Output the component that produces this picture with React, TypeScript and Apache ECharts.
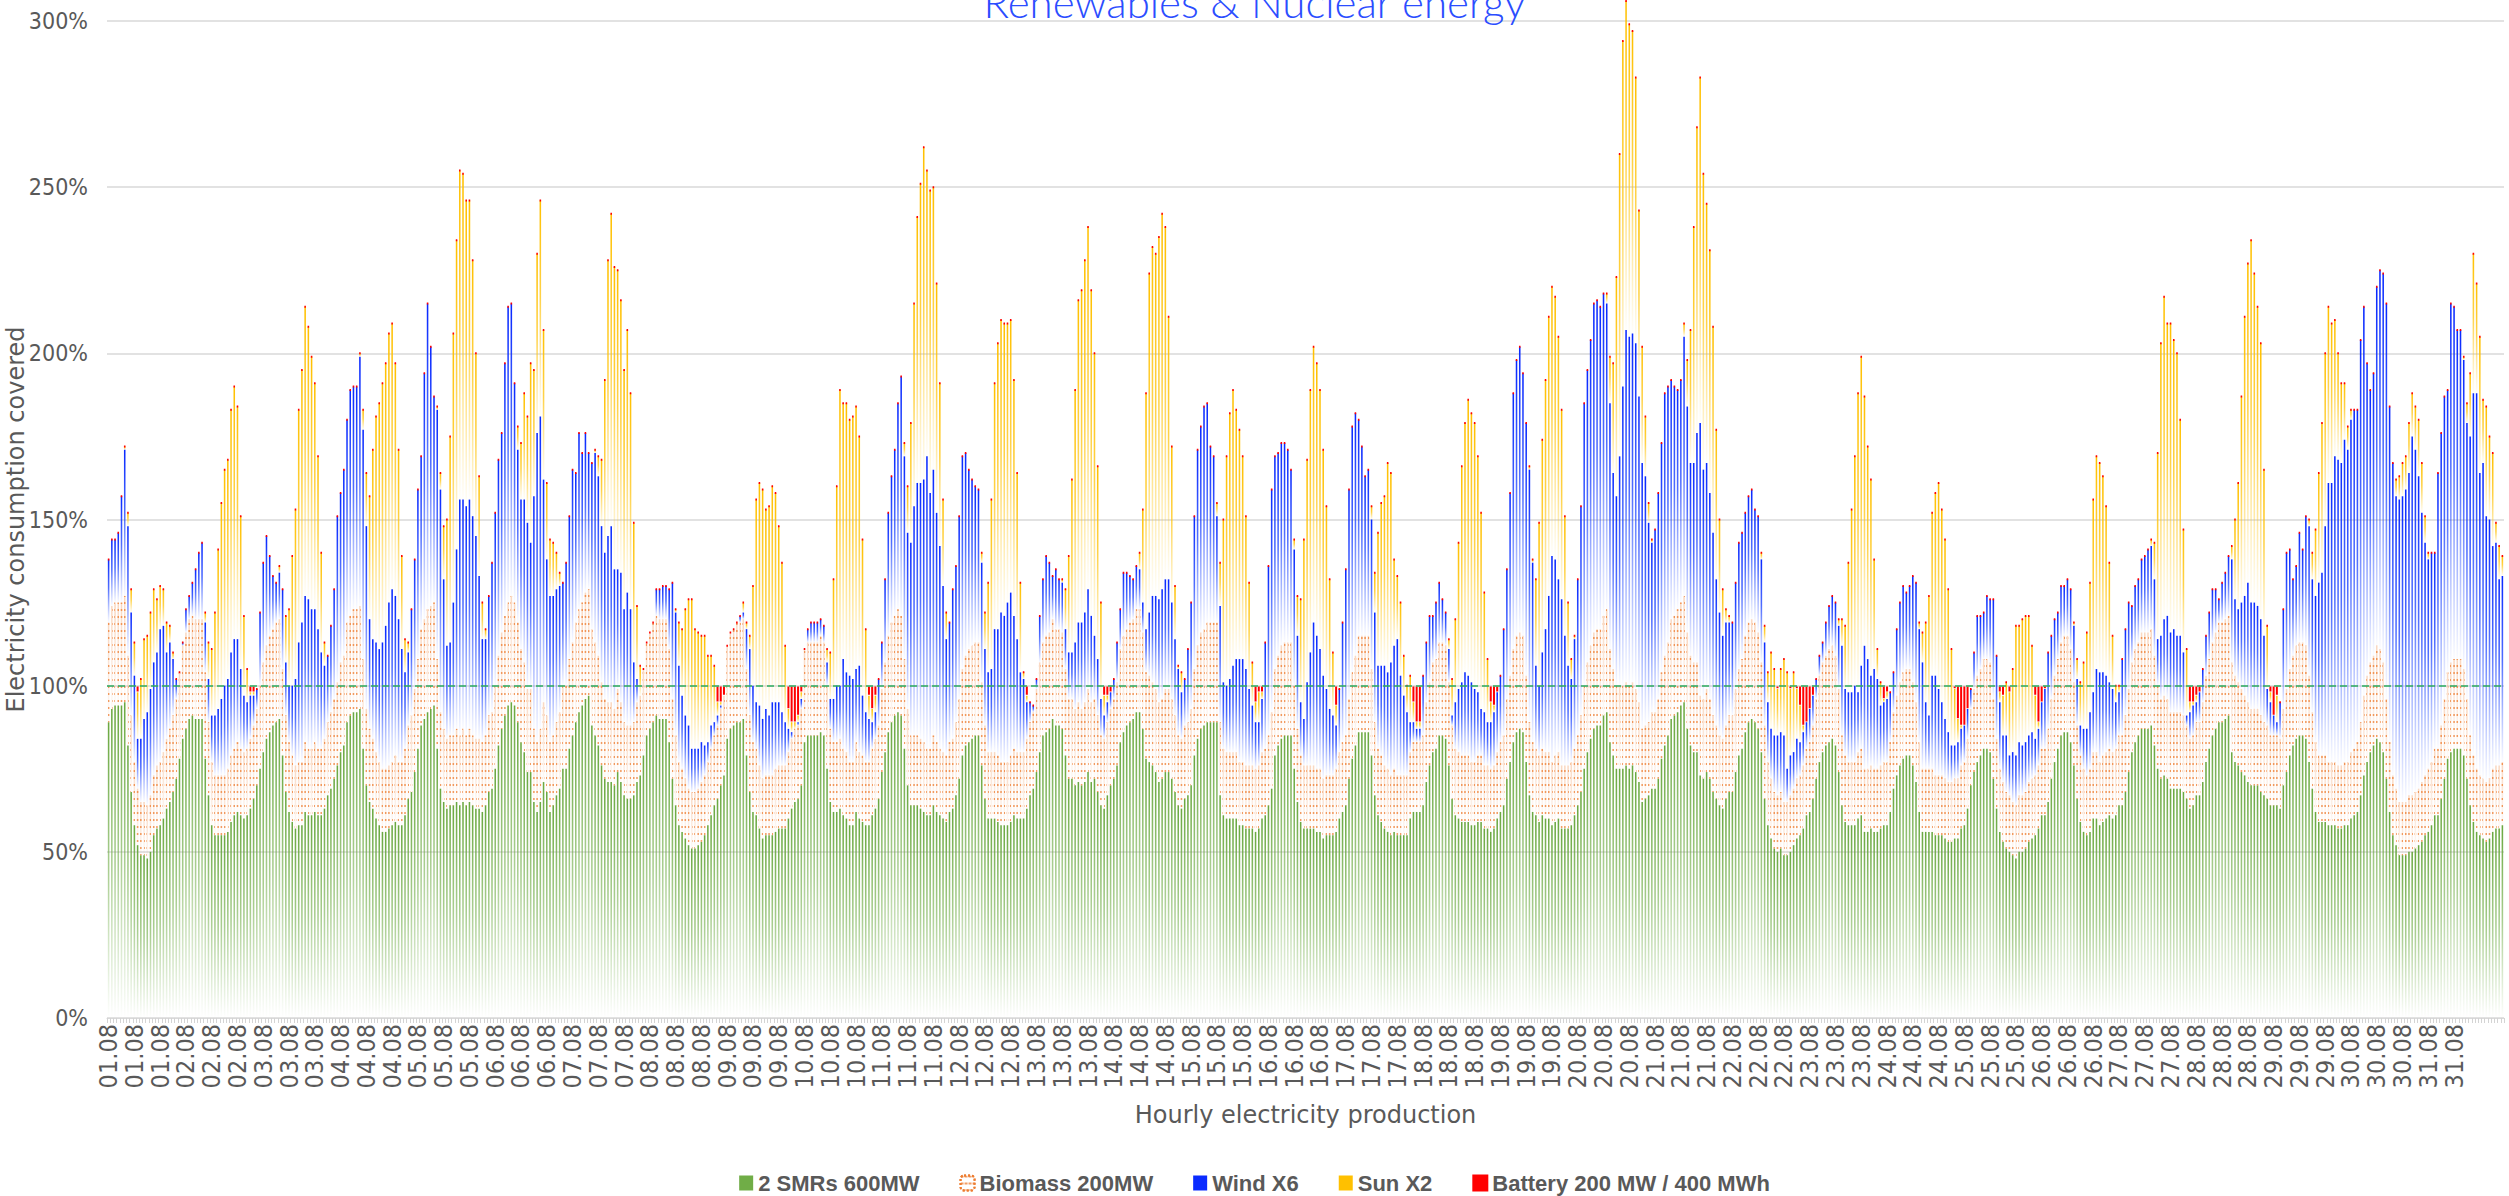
import React, { useEffect, useRef } from "react";
import * as echarts from "echarts";

// 2 SMRs 600MW — % of hourly consumption covered (744 hours, 01.08–31.08)
const smr = [
  89,93,94,94,94,95,82,68,58,52,49,49,48,50,55,57,58,60,63,65,68,72,78,84,
  87,90,91,90,90,90,78,67,58,55,55,55,55,56,59,61,62,61,60,61,63,66,70,75,
  80,84,86,88,89,90,79,68,62,59,57,58,58,62,61,61,62,61,61,63,67,69,72,76,
  80,82,89,91,92,92,93,81,70,65,63,60,58,56,56,57,58,59,58,58,61,66,68,74,
  81,88,90,92,93,94,81,69,65,63,64,64,65,64,65,64,65,64,63,63,62,64,68,69,
  75,82,87,91,94,95,94,89,83,80,74,74,65,62,65,71,68,62,64,67,69,75,75,81,
  85,89,92,94,96,97,88,85,82,76,72,71,71,70,74,71,67,66,66,67,71,73,79,85,
  87,89,91,90,90,90,83,72,64,58,56,54,52,51,51,52,53,55,58,61,64,66,70,73,
  84,87,88,89,89,90,79,68,62,61,57,54,55,55,55,56,57,57,57,60,63,65,66,70,
  83,85,85,85,85,86,85,75,65,62,62,63,61,60,58,58,62,60,59,58,58,61,63,66,
  74,80,86,89,91,92,91,81,70,64,64,64,63,62,61,61,64,62,61,60,59,62,63,67,
  72,79,82,83,84,85,85,76,66,60,60,60,59,58,58,58,59,61,60,60,60,63,67,69,
  74,80,85,86,87,90,88,88,87,79,72,72,70,71,70,71,74,71,72,68,64,63,67,70,
  72,76,83,86,88,89,90,92,92,87,78,77,76,74,71,72,74,74,72,68,64,63,66,67,
  70,79,84,87,88,89,89,89,89,67,61,60,60,60,60,58,58,57,57,57,56,57,60,61,
  64,69,79,82,84,85,85,85,75,65,59,57,57,57,57,56,56,54,55,55,55,56,60,62,
  64,72,78,82,86,86,86,86,79,67,61,59,57,56,55,56,55,55,55,55,60,62,62,62,
  64,71,76,80,81,85,85,84,76,66,61,60,59,59,59,58,58,59,59,57,57,56,57,60,
  62,64,72,77,83,86,87,86,77,67,62,61,59,61,60,60,58,59,60,57,57,57,58,61,
  64,68,75,80,84,87,88,88,91,92,83,79,75,75,75,76,75,76,74,71,65,66,67,69,
  69,72,78,82,85,90,91,92,94,95,87,82,80,80,73,72,74,72,68,66,64,63,66,68,
  68,74,79,81,86,89,90,89,87,80,66,58,54,51,50,51,49,49,50,52,54,55,57,61,
  62,66,72,77,80,82,83,84,82,74,64,59,58,58,58,60,61,56,56,57,56,56,57,58,
  58,62,69,73,76,78,79,79,76,71,62,56,56,56,56,55,55,55,54,53,53,54,54,57,
  58,63,70,74,77,79,81,81,80,72,63,56,53,51,50,49,48,50,50,51,53,54,55,57,
  61,61,65,72,77,81,85,86,86,83,76,66,59,56,55,56,60,60,58,59,60,61,60,61,
  64,64,68,74,80,83,85,87,87,87,88,82,75,72,73,72,69,69,69,69,68,66,63,64,
  67,67,71,77,81,85,87,89,89,90,91,80,77,76,74,73,71,70,70,70,68,67,66,64,
  64,64,63,70,74,79,82,84,85,85,84,77,69,62,59,59,59,58,58,58,57,57,58,58,
  60,61,62,67,73,77,80,82,84,83,80,72,62,55,52,49,49,49,50,50,51,52,53,55,
  56,58,61,61,66,72,78,80,81,81,81,79,72,64,59,56,55,54,53,54,56,57,57,58,
];

// Biomass 200MW — %
const biomass = [
  30,31,31,31,31,32,27,23,19,17,16,16,16,17,18,19,19,20,21,22,23,24,26,28,
  29,30,30,30,30,30,26,22,19,18,18,18,18,19,20,20,21,20,20,20,21,22,23,25,
  27,28,29,29,30,30,26,23,21,20,19,19,19,21,20,20,21,20,20,21,22,23,24,25,
  27,27,30,30,31,31,31,27,23,22,21,20,19,19,19,19,19,20,19,19,20,22,23,25,
  27,29,30,31,31,31,27,23,22,21,21,21,22,21,22,21,22,21,21,21,21,21,23,23,
  25,27,29,30,31,32,31,30,28,27,25,25,22,21,22,24,23,21,21,22,23,25,25,27,
  28,30,31,31,32,32,29,28,27,25,24,24,24,23,25,24,22,22,22,22,24,24,26,28,
  29,30,30,30,30,30,28,24,21,19,19,18,17,17,17,17,18,18,19,20,21,22,23,24,
  28,29,29,30,30,30,26,23,21,20,19,18,18,18,18,19,19,19,19,20,21,22,22,23,
  28,28,28,28,28,29,28,25,22,21,21,21,20,20,19,19,21,20,20,19,19,20,21,22,
  25,27,29,30,30,31,30,27,23,21,21,21,21,21,20,20,21,21,20,20,20,21,21,22,
  24,26,27,28,28,28,28,25,22,20,20,20,20,19,19,19,20,20,20,20,20,21,22,23,
  25,27,28,29,29,30,29,29,29,26,24,24,23,24,23,24,25,24,24,23,21,21,22,23,
  24,25,28,29,29,30,30,31,31,29,26,26,25,25,24,24,25,25,24,23,21,21,22,22,
  23,26,28,29,29,30,30,30,30,22,20,20,20,20,20,19,19,19,19,19,19,19,20,20,
  21,23,26,27,28,28,28,28,25,22,20,19,19,19,19,19,19,18,18,18,18,19,20,21,
  21,24,26,27,29,29,29,29,26,22,20,20,19,19,18,19,18,18,18,18,20,21,21,21,
  21,24,25,27,27,28,28,28,25,22,20,20,20,20,20,19,19,20,20,19,19,19,19,20,
  21,21,24,26,28,29,29,29,26,22,21,20,20,20,20,20,19,20,20,19,19,19,19,20,
  21,23,25,27,28,29,29,29,30,31,28,26,25,25,25,25,25,25,25,24,22,22,22,23,
  23,24,26,27,28,30,30,31,31,32,29,27,27,27,24,24,25,24,23,22,21,21,22,23,
  23,25,26,27,29,30,30,30,29,27,22,19,18,17,17,17,16,16,17,17,18,18,19,20,
  21,22,24,26,27,27,28,28,27,25,21,20,19,19,19,20,20,19,19,19,19,19,19,19,
  19,21,23,24,25,26,26,26,25,24,21,19,19,19,19,18,18,18,18,18,18,18,18,19,
  19,21,23,25,26,26,27,27,27,24,21,19,18,17,17,16,16,17,17,17,18,18,18,19,
  20,20,22,24,26,27,28,29,29,28,25,22,20,19,18,19,20,20,19,20,20,20,20,20,
  21,21,23,25,27,28,28,29,29,29,29,27,25,24,24,24,23,23,23,23,23,22,21,21,
  22,22,24,26,27,28,29,30,30,30,30,27,26,25,25,24,24,23,23,23,23,22,22,21,
  21,21,21,23,25,26,27,28,28,28,28,26,23,21,20,20,20,19,19,19,19,19,19,19,
  20,20,21,22,24,26,27,27,28,28,27,24,21,18,17,16,16,16,17,17,17,17,18,18,
  19,19,20,20,22,24,26,27,27,27,27,26,24,21,20,19,18,18,18,18,19,19,19,19,
];

// Level reached once Wind X6 is added (top of the blue bar), %
const windTop = [
  138,144,144,146,157,171,148,122,103,84,84,90,92,99,107,110,117,118,110,113,108,102,102,113,
  123,127,131,135,140,143,119,102,91,91,93,96,100,102,110,114,114,105,97,95,97,97,99,122,
  137,145,139,133,131,134,129,107,100,100,102,113,119,127,126,123,123,117,110,106,109,118,129,151,
  158,165,180,189,190,190,199,177,148,120,114,113,111,113,118,125,129,127,120,111,104,110,123,138,
  159,169,194,215,202,187,183,159,132,112,113,125,141,156,156,154,156,151,145,133,114,114,127,137,
  152,168,176,197,214,215,191,171,156,156,149,143,157,176,181,162,138,127,127,129,130,131,137,151,
  165,164,176,170,176,170,167,170,163,148,140,145,148,135,135,134,123,128,123,107,102,96,97,102,
  105,117,129,129,130,130,129,131,122,106,97,91,88,81,81,81,83,82,83,88,89,91,94,97,
  106,111,114,118,121,122,117,111,100,95,94,90,93,91,95,95,95,92,89,87,86,86,89,96,
  107,117,119,119,119,120,118,107,96,96,100,100,108,104,103,102,105,106,97,92,90,89,92,102,
  113,132,152,163,171,185,193,169,146,143,154,161,161,162,169,158,165,152,142,130,114,119,129,136,
  151,169,170,165,162,160,159,137,111,104,105,117,117,122,121,125,128,121,114,104,102,95,95,94,
  102,121,132,139,137,133,135,132,131,117,110,110,113,119,119,122,129,121,115,108,96,91,95,98,
  102,113,123,134,134,133,132,136,135,125,117,122,127,127,126,129,132,132,125,114,105,98,102,111,
  125,151,171,178,184,185,172,169,151,124,101,100,102,106,108,108,108,105,99,94,89,89,96,113,
  136,159,169,170,173,173,171,165,141,115,95,90,101,110,119,115,111,103,99,93,91,88,99,119,
  135,159,178,182,180,172,163,165,150,122,106,106,106,104,107,112,114,103,97,92,89,89,87,87,
  103,113,121,121,125,131,126,122,111,91,95,99,101,104,103,101,99,98,93,92,89,89,92,98,
  103,117,135,158,188,198,202,194,179,165,137,106,100,110,117,127,139,138,132,126,115,106,102,114,
  132,154,185,195,204,215,216,214,218,215,185,164,157,169,190,207,205,206,203,187,167,163,149,143,
  147,158,173,188,190,192,190,189,192,205,184,167,167,176,179,165,167,158,146,132,122,115,119,119,
  119,131,143,146,152,157,159,153,151,138,113,95,87,85,85,86,85,75,79,80,84,83,86,89,
  93,97,102,109,113,119,124,127,125,118,112,99,98,98,100,98,106,112,108,103,105,102,94,95,
  96,98,104,117,125,130,128,130,133,131,117,107,95,91,103,103,99,95,90,86,82,82,83,87,
  88,93,99,110,121,121,122,127,126,126,109,95,85,85,79,80,79,83,82,83,85,86,84,87,
  95,99,110,115,120,122,130,130,132,129,118,102,88,87,87,92,98,105,104,104,103,101,99,95,
  98,108,117,125,124,130,132,138,139,141,142,132,114,115,120,121,116,117,115,115,110,91,92,94,
  95,98,105,115,122,129,129,126,131,134,139,138,126,123,125,127,131,125,125,124,120,115,99,95,
  91,89,95,123,140,141,132,136,146,141,151,148,132,127,131,134,148,161,161,169,168,167,174,171,
  180,183,183,204,214,197,189,194,220,225,224,215,184,167,157,156,157,159,164,175,171,163,152,143,
  138,140,140,164,176,187,189,215,214,207,207,198,179,175,188,188,164,167,151,150,142,143,132,133,
];

// Level reached once Sun X2 is added (top of the yellow bar), 0 = no sun, %
const sunTop = [
  0,0,0,0,0,172,152,129,113,98,102,114,115,122,129,126,130,129,119,118,110,0,0,0,
  0,0,0,0,0,0,122,113,111,122,141,155,165,168,183,190,184,151,121,105,98,98,0,0,
  0,0,0,0,0,136,129,121,123,139,153,183,195,214,208,199,191,169,140,113,0,0,0,0,
  0,0,0,0,0,0,200,183,164,157,171,181,185,191,197,206,209,197,171,139,114,113,0,0,
  0,0,0,0,0,0,184,164,148,150,175,206,234,255,254,246,246,228,200,163,125,117,0,0,
  0,0,0,0,0,0,0,178,173,188,181,197,195,230,246,207,161,144,143,140,134,0,0,0,
  0,0,0,0,0,0,0,171,169,168,192,228,242,226,225,216,195,207,188,149,124,106,103,0,
  0,0,0,0,0,0,0,0,123,119,117,123,126,126,117,116,115,115,109,109,106,95,95,97,
  0,0,0,0,0,125,119,115,130,156,161,159,153,154,160,158,148,137,112,93,89,89,91,98,
  0,0,0,0,0,0,0,111,110,132,160,189,185,185,180,181,184,175,144,117,97,93,97,0,
  0,0,0,0,0,0,0,173,160,179,215,241,251,262,255,249,250,221,191,156,122,0,0,0,
  0,0,0,0,0,0,0,140,122,131,156,191,203,210,209,209,210,192,164,131,104,97,0,0,
  0,0,0,0,0,0,0,0,132,129,139,162,189,216,219,228,238,219,200,166,125,97,97,98,
  0,0,0,0,0,0,0,0,140,153,188,224,232,230,235,242,238,211,172,130,106,104,0,0,
  0,0,0,0,0,0,0,0,155,137,150,169,182,189,183,177,169,151,131,107,95,98,98,0,
  0,0,0,0,0,0,0,0,144,127,126,144,168,189,202,197,189,171,154,132,110,94,0,0,
  0,0,0,0,0,0,0,0,154,134,146,155,157,167,164,138,133,125,109,100,103,95,89,89,
  0,0,0,0,0,0,0,0,114,102,120,143,166,179,186,182,179,169,152,128,108,95,94,98,
  0,0,0,0,0,0,0,0,0,166,138,132,149,174,192,211,220,217,205,183,151,125,108,115,
  0,0,0,0,0,0,0,0,0,218,199,197,223,260,294,306,299,297,283,243,202,181,155,144,
  0,0,0,0,0,0,0,0,0,209,198,207,238,268,283,254,245,231,208,177,150,129,123,121,
  0,0,0,0,0,0,0,0,0,140,118,104,110,105,99,105,108,104,99,104,99,94,88,89,
  93,97,0,0,0,0,0,0,0,120,120,118,137,153,169,188,199,187,172,162,138,111,101,96,
  98,0,0,0,0,0,0,0,0,0,119,116,119,127,152,158,161,153,144,129,111,99,90,88,
  88,93,0,0,0,0,0,0,0,0,0,98,97,101,98,105,118,118,120,121,121,112,97,89,
  95,99,0,0,0,0,0,0,0,0,119,108,101,107,116,131,156,169,167,163,154,137,115,100,
  100,0,0,0,0,0,0,0,0,0,144,143,170,203,217,209,209,204,200,180,147,111,95,95,
  97,98,0,0,0,0,0,0,0,0,0,142,150,161,187,211,227,234,224,214,203,165,118,98,
  91,97,0,0,0,0,0,0,0,0,0,150,140,147,164,179,200,214,209,210,200,191,191,178,
  183,0,0,0,0,0,0,0,0,0,0,0,0,0,162,163,167,169,179,188,184,180,167,151,
  140,0,0,0,0,0,0,0,0,0,0,199,185,194,230,221,205,186,184,175,170,149,142,139,
];

// Battery 200 MW / 400 MWh — hours (index from 01.08 00:00) where it discharges, and %
const batteryHours = [
  9,44,45,189,190,191,211,212,213,214,215,236,237,238,285,309,310,311,356,357,358,381,405,406,407,
  429,430,431,518,522,524,525,526,527,528,529,551,552,573,574,575,576,577,587,588,590,598,599,600,601,
  646,647,648,649,671,672,673,
];
const batteryValues = [
  2,2,2,5,5,3,7,11,11,9,2,3,7,3,3,3,3,2,5,2,2,6,5,11,11,
  5,6,2,1,1,1,6,12,11,7,3,4,2,1,10,12,12,7,2,3,2,3,11,5,1,
  5,5,3,2,2,9,3,
];

const HOURS = smr.length;
const categories = Array.from({ length: HOURS }, (_, i) =>
  `${String(Math.floor(i / 24) + 1).padStart(2, "0")}.08`
);

const NARROW = "'Liberation Sans Narrow', 'DejaVu Sans Condensed', 'Liberation Sans', sans-serif";
const WIDE = "'DejaVu Sans', 'Liberation Sans', sans-serif";
const GREY = "#595959";

function buildSeriesData() {
  const batMap: Record<number, number> = {};
  batteryHours.forEach((h, k) => (batMap[h] = batteryValues[k]));
  const wind: number[] = [];
  const sun: number[] = [];
  const bat: number[] = [];
  for (let i = 0; i < HOURS; i++) {
    const bioTop = smr[i] + biomass[i];
    const w = Math.max(0, (windTop[i] ?? 0) - bioTop);
    const base = bioTop + w;
    const s = (sunTop[i] ?? 0) > base ? sunTop[i] - base : 0;
    const top = base + s;
    const b = batMap[i] ? Math.min(batMap[i], Math.max(0, 100 - top)) : 0;
    wind.push(w);
    sun.push(s);
    bat.push(b);
  }
  return { wind, sun, bat };
}

const grad = (stops: [number, string][]) =>
  new echarts.graphic.LinearGradient(
    0, 0, 0, 1,
    stops.map(([offset, color]) => ({ offset, color }))
  );

export default function App() {
  const ref = useRef<HTMLDivElement>(null);
  useEffect(() => {
    document.body.style.margin = "0";
    const chart = echarts.init(ref.current!, null, { renderer: "svg" });
    const { wind, sun, bat } = buildSeriesData();
    const barWidth = "48%";
    const common = { type: "bar", stack: "total", barWidth, clip: false, emphasis: { disabled: true } };
    chart.setOption({
      animation: false,
      backgroundColor: "#ffffff",
      title: {
        text: "Renewables & Nuclear energy",
        left: "center",
        top: -24,
        textStyle: { color: "#2B4DFF", fontSize: 42, fontWeight: 300, fontFamily: "Lato, 'Liberation Sans', sans-serif" },
      },
      grid: { left: 107, right: 5, top: 21, bottom: 178, containLabel: false, outerBoundsMode: "none" },
      legend: {
        top: 1167,
        left: "center",
        itemGap: 40,
        itemWidth: 14,
        itemHeight: 15,
        textStyle: { color: GREY, fontSize: 22, fontWeight: "bold", fontFamily: "'Liberation Sans', Arial, sans-serif" },
        data: [
          { name: "2 SMRs 600MW", icon: "rect", itemStyle: { color: "#70AD47" } },
          { name: "Biomass 200MW", icon: "roundRect", itemStyle: { color: "rgba(255,255,255,0)", borderColor: "#ED7D31", borderWidth: 2, borderType: "dotted" } },
          { name: "Wind X6", icon: "rect", itemStyle: { color: "#0A2BFF" } },
          { name: "Sun X2", icon: "rect", itemStyle: { color: "#FFC000" } },
          { name: "Battery 200 MW / 400 MWh", icon: "rect", itemStyle: { color: "#FF0000" } },
        ],
      },
      xAxis: {
        type: "category",
        data: categories,
        name: "Hourly electricity production",
        nameLocation: "middle",
        nameGap: 85,
        nameMoveOverlap: false,
        nameTextStyle: { color: GREY, fontSize: 24, fontFamily: WIDE },
        axisLine: { lineStyle: { color: "#d9d9d9", width: 1 } },
        axisTick: { show: true, interval: 0, length: 5, lineStyle: { color: "#d4d4d4" } },
        axisLabel: {
          interval: 7,
          rotate: 90,
          margin: 6,
          showMinLabel: true,
          showMaxLabel: false,
          hideOverlap: false,
          color: GREY,
          fontSize: 25,
          fontFamily: NARROW,
        },
        splitLine: { show: false },
      },
      yAxis: {
        type: "value",
        min: 0,
        max: 300,
        interval: 50,
        name: "Electricity consumption covered",
        nameLocation: "middle",
        nameGap: 79,
        nameMoveOverlap: false,
        nameTextStyle: { color: GREY, fontSize: 24, fontFamily: WIDE },
        axisLine: { show: false },
        axisTick: { show: false },
        axisLabel: { formatter: "{value}%", color: GREY, fontSize: 23, margin: 19, fontFamily: NARROW },
        splitLine: { lineStyle: { color: "#d9d9d9", width: 1.5 } },
      },
      series: [
        {
          ...common,
          name: "2 SMRs 600MW",
          data: smr,
          itemStyle: { color: grad([[0, "rgba(106,168,64,1)"], [0.5, "rgba(112,173,71,0.6)"], [1, "rgba(112,173,71,0)"]]) },
          markLine: {
            silent: true,
            symbol: "none",
            label: { show: false },
            lineStyle: { color: "#2EAD62", type: [7, 4], width: 1.5 },
            data: [{ yAxis: 100 }],
          },
        },
        {
          ...common,
          name: "Biomass 200MW",
          data: biomass,
          itemStyle: {
            color: grad([[0, "rgba(237,125,49,0.30)"], [1, "rgba(237,125,49,0.04)"]]),
            decal: {
              symbol: "rect",
              symbolSize: 1,
              color: "rgba(237,125,49,0.75)",
              dashArrayX: [3, 1],
              dashArrayY: [1.5, 4.5],
              rotation: 0,
            },
          },
        },
        {
          ...common,
          name: "Wind X6",
          data: wind,
          itemStyle: { color: grad([[0, "rgba(8,40,255,1)"], [0.45, "rgba(20,60,255,0.75)"], [1, "rgba(40,80,255,0.02)"]]) },
        },
        {
          ...common,
          name: "Sun X2",
          data: sun,
          itemStyle: { color: grad([[0, "rgba(255,192,0,1)"], [0.45, "rgba(255,195,10,0.75)"], [1, "rgba(255,200,30,0.02)"]]) },
        },
        {
          ...common,
          name: "Battery 200 MW / 400 MWh",
          data: bat,
          itemStyle: { color: "#FF0000", borderColor: "#FF0000", borderWidth: 2 },
        },
      ],
    });
    return () => chart.dispose();
  }, []);
  return <div ref={ref} style={{ width: 2509, height: 1196 }} />;
}
